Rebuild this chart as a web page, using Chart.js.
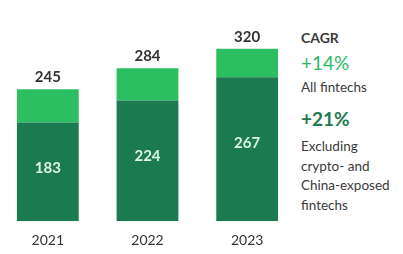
<!DOCTYPE html>
<html>
<head>
<meta charset="utf-8">
<script src="https://cdn.jsdelivr.net/npm/chart.js@4"></script>
<style>
  body { margin: 0; background: #fff; font-family: Lato, sans-serif; }
  #wrap { position: relative; width: 403px; height: 254px; overflow: hidden; }
  #chart-box { position: absolute; left: -2px; top: 0; width: 299px; height: 261px; }
  .note { position: absolute; left: 301px; white-space: nowrap; color: #3a3a3a; }
</style>
</head>
<body>
<div id="wrap">
  <div id="chart-box"><canvas id="chart-container"></canvas></div>
  <div class="note" style="top:28px; font-size:14px; line-height:20px; font-weight:700;">CAGR</div>
  <div class="note" style="top:51px; font-size:19px; line-height:24px; color:#2db862;">+14%</div>
  <div class="note" style="top:77px; font-size:13.5px; line-height:20px;">All fintechs</div>
  <div class="note" style="top:107px; font-size:19px; line-height:24px; font-weight:700; color:#1f7a50;">+21%</div>
  <div class="note" style="top:137px; font-size:13.5px; line-height:19.5px;">Excluding<br>crypto- and<br>China-exposed<br>fintechs</div>
</div>
<script>
const years = ["2021", "2022", "2023"];
const excludingValues = [183, 224, 267];
const otherValues = [62, 60, 53];
const totals = [245, 284, 320];

const darkGreen = "#1b7a4f";
const lightGreen = "#2cbf62";

const barLabels = {
    id: "barLabels",
    afterDatasetsDraw(chart) {
        const ctx = chart.ctx;
        const darkMeta = chart.getDatasetMeta(0);
        const lightMeta = chart.getDatasetMeta(1);
        ctx.save();
        ctx.textAlign = "center";
        ctx.textBaseline = "middle";
        ctx.font = "bold 15px Lato, sans-serif";

        darkMeta.data.forEach(function (bar, i) {
            const y = bar.y + (bar.base - bar.y) * 0.46;
            ctx.fillStyle = "#dcf5e4";
            ctx.fillText(excludingValues[i], bar.x, y);
        });

        lightMeta.data.forEach(function (bar, i) {
            ctx.fillStyle = "#333333";
            ctx.fillText(totals[i], bar.x, bar.y - 12);
        });
        ctx.restore();
    }
};

new Chart(document.getElementById("chart-container"), {
    type: "bar",
    data: {
        labels: years,
        datasets: [
            {
                label: "Excluding crypto- and China-exposed fintechs",
                data: excludingValues,
                backgroundColor: darkGreen,
                borderWidth: 0,
            },
            {
                label: "Other fintechs",
                data: otherValues,
                backgroundColor: lightGreen,
                borderWidth: 0,
            },
        ],
    },
    options: {
        responsive: true,
        maintainAspectRatio: false,
        animation: false,
        categoryPercentage: 1,
        barPercentage: 0.62,
        layout: { padding: { top: 10, bottom: 1, left: 0, right: 0 } },
        plugins: {
            legend: { display: false },
            tooltip: { enabled: false },
        },
        scales: {
            x: {
                stacked: true,
                grid: { display: false, drawTicks: false },
                border: { display: false },
                ticks: {
                    padding: 11,
                    color: "#333333",
                    font: { family: "Lato, sans-serif", size: 14 },
                },
            },
            y: {
                stacked: true,
                display: false,
                min: 0,
                max: 392,
            },
        },
    },
    plugins: [barLabels],
});
</script>
</body>
</html>
